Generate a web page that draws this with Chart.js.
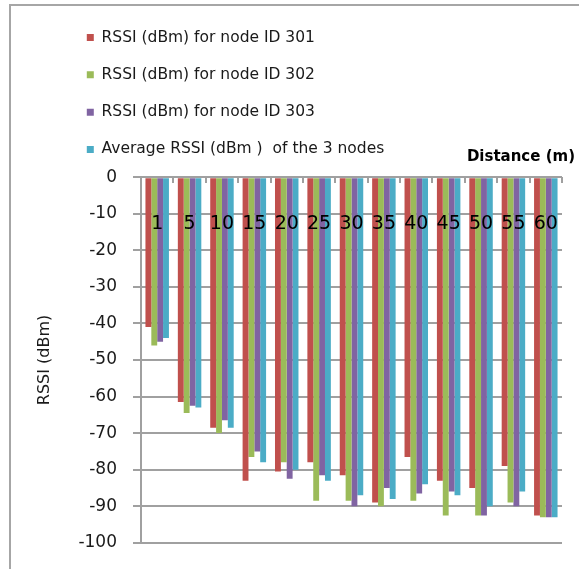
<!DOCTYPE html>
<html>
<head>
<meta charset="utf-8">
<script src="https://cdn.jsdelivr.net/npm/chart.js@4/dist/chart.umd.min.js"></script>
<style>
  html, body { margin:0; padding:0; background:#fff; }
  #wrap { position:relative; width:579px; height:569px; overflow:hidden; }
  #frame { position:absolute; left:9px; top:4px; width:600px; height:600px; border-left:2px solid #a6a6a6; border-top:2px solid #a6a6a6; }
  #rssiChart { position:absolute; left:0; top:0; }
</style>
</head>
<body>
<div id="wrap">
  <div id="frame"></div>
  <canvas id="rssiChart" width="579" height="569"></canvas>
</div>
<script>
// distancias (m) e leituras de RSSI
const distances = ['1','5','10','15','20','25','30','35','40','45','50','55','60'];
const node301 = [-41, -61.5, -68.5, -83, -80.5, -78, -81.5, -89, -76.5, -83, -85, -79, -92.5];
const node302 = [-46, -64.5, -70, -76.5, -78, -88.5, -88.5, -90, -88.5, -92.5, -92.5, -89, -93];
const node303 = [-45, -62.5, -66.5, -75, -82.5, -81.5, -90, -85, -86.5, -86, -92.5, -90, -93];
const average = [-44, -63, -68.5, -78, -80, -83, -87, -88, -84, -87, -90, -86, -93];
const yTicks = { min: -100, max: 0, step: 10 };

const seriesNames = [
  'RSSI (dBm) for node ID 301',
  'RSSI (dBm) for node ID 302',
  'RSSI (dBm) for node ID 303',
  'Average RSSI (dBm )  of the 3 nodes'
];
const seriesColors = ['#c0504d', '#9bbb59', '#8064a2', '#4bacc6'];

const FONT = 'DejaVu Sans';
const GRID = '#a0a0a0';
const TEXT = '#1a1a1a';

const datasets = [node301, node302, node303, average].map((vals, i) => ({
  label: seriesNames[i],
  data: vals,
  backgroundColor: seriesColors[i],
  borderWidth: 0,
  categoryPercentage: 0.725,
  barPercentage: 1.0
}));

new Chart(document.getElementById('rssiChart'), {
  type: 'bar',
  data: { labels: distances, datasets },
  options: {
    responsive: false,
    animation: false,
    layout: { padding: { top: 8, left: 65, right: 4, bottom: 17 } },
    plugins: {
      tooltip: { enabled: false },
      legend: {
        display: true,
        position: 'top',
        align: 'start',
        labels: {
          boxWidth: 7,
          boxHeight: 7,
          padding: 21.8,
          color: TEXT,
          font: { family: FONT, size: 15.5 }
        }
      },
      title: {
        display: true,
        text: 'Distance (m)',
        align: 'end',
        position: 'top',
        weight: 500,
        color: '#000',
        font: { family: FONT, size: 15, weight: 'bold' },
        // titulo sobreposto ao fim da legenda, como no Excel
        padding: { top: -19, bottom: 11 }
      }
    },
    scales: {
      x: {
        type: 'category',
        position: { y: -10 },
        offset: true,
        grid: { display: false, drawTicks: false },
        border: { display: false },
        ticks: {
          z: 1, // rótulos por cima das barras
          color: '#000',
          padding: -1,
          maxRotation: 0,
          autoSkip: false,
          font: { family: FONT, size: 19 }
        }
      },
      x2: {
        type: 'category',
        labels: distances,
        position: { y: 0 },
        offset: true,
        grid: { offset: true, drawOnChartArea: false, tickLength: 6, color: GRID, lineWidth: 2 },
        border: { display: false },
        ticks: { display: false }
      },
      y: {
        min: yTicks.min,
        max: yTicks.max,
        position: 'left',
        afterFit: (scale) => { scale.width = 76; },
        grid: { color: GRID, lineWidth: 2, tickLength: 8, tickColor: GRID },
        border: { display: true, color: GRID, width: 2 },
        ticks: {
          stepSize: yTicks.step,
          padding: 16,
          color: TEXT,
          font: { family: FONT, size: 17 }
        },
        title: {
          display: true,
          text: 'RSSI (dBm)',
          color: TEXT,
          font: { family: FONT, size: 16 },
          padding: { top: -30, bottom: 0 }
        }
      },
      y2: {
        type: 'linear',
        position: 'right',
        afterFit: (scale) => { scale.width = 13; },
        grid: { display: false },
        border: { display: false },
        ticks: { display: false }
      }
    }
  }
});
</script>
</body>
</html>
